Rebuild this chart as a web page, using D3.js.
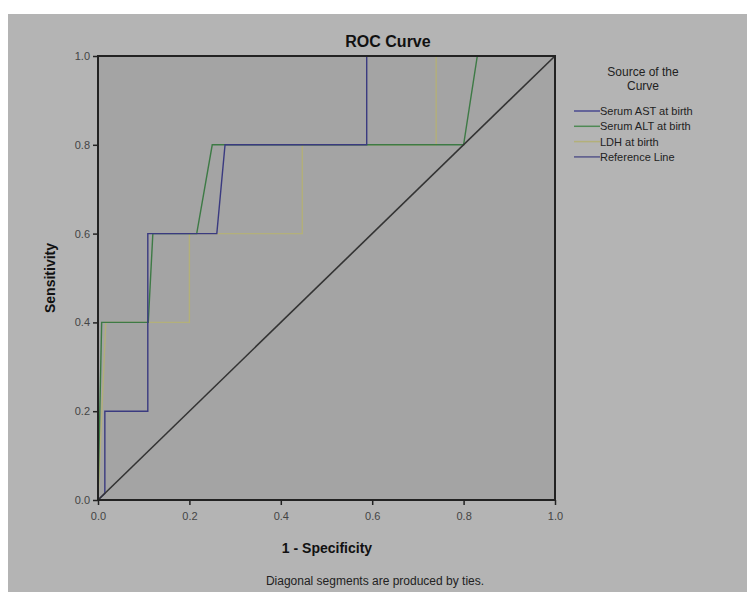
<!DOCTYPE html>
<html><head><meta charset="utf-8">
<script src="https://cdn.jsdelivr.net/npm/d3@7"></script>
<style>body{margin:0;background:#fff}</style>
</head><body><svg id="c" width="747" height="592"></svg>
<script>
const seriesNames = ["Serum AST at birth","Serum ALT at birth","LDH at birth","Reference Line"];
const astFPR = [0,0.015,0.015,0.109,0.109,0.26,0.278,0.588,0.588,1];
const astTPR = [0,0.015,0.2,0.2,0.6,0.6,0.8,0.8,1.0,1];
const altFPR = [0,0.008,0.11,0.12,0.216,0.25,0.80,0.83,1];
const altTPR = [0,0.4,0.4,0.6,0.6,0.8,0.8,1.0,1];
const ldhFPR = [0,0.017,0.2,0.2,0.447,0.447,0.74,0.74,1];
const ldhTPR = [0,0.4,0.4,0.6,0.6,0.8,0.8,1.0,1];
const refFPR = [0,1];
const refTPR = [0,1];
const ticks = [0,0.2,0.4,0.6,0.8,1.0];
const colors = ["#3a3a80","#3d7a45","#b3b07a","#333"];
const legendColors = ["#4a4a90","#4f8a55","#b3b07a","#55558a"];

const svg = d3.select("#c");
svg.append("rect").attr("x",8).attr("y",14).attr("width",739).attr("height",578).attr("fill","#b4b4b4");
const x = d3.scaleLinear().domain([0,1]).range([98,555]);
const y = d3.scaleLinear().domain([0,1]).range([500,56]);
svg.append("rect").attr("x",x(0)).attr("y",y(1)).attr("width",x(1)-x(0)).attr("height",y(0)-y(1)).attr("fill","#a4a4a4");

const fmt = d3.format(".1f");
const xa = svg.append("g").attr("transform","translate(0,500)").call(d3.axisBottom(x).tickValues(ticks).tickFormat(fmt).tickSize(5).tickSizeOuter(0));
const ya = svg.append("g").attr("transform","translate(98,0)").call(d3.axisLeft(y).tickValues(ticks).tickFormat(fmt).tickSize(5).tickSizeOuter(0));
[xa,ya].forEach(a=>{a.select(".domain").remove();a.selectAll("line").attr("stroke","#222").attr("stroke-width",1.5);
 a.selectAll("text").attr("font-family","Arial, Liberation Sans, sans-serif").attr("font-size",11).attr("fill","#444");});
xa.selectAll("text").attr("dy","1.1em");

const line = d3.line().x(d=>x(d[0])).y(d=>y(d[1]));
const data = [[ldhFPR,ldhTPR],[altFPR,altTPR],[astFPR,astTPR],[refFPR,refTPR]];
const cidx = [2,1,0,3];
data.forEach((s,i)=>{
  svg.append("path").datum(s[0].map((v,j)=>[v,s[1][j]])).attr("d",line).attr("fill","none")
   .attr("stroke",colors[cidx[i]]).attr("stroke-width",cidx[i]==3?1.6:1.4);
});
svg.append("rect").attr("x",x(0)).attr("y",y(1)).attr("width",x(1)-x(0)).attr("height",y(0)-y(1)).attr("fill","none").attr("stroke","#222").attr("stroke-width",2);

const ff = "Arial, Liberation Sans, sans-serif";
svg.append("text").attr("x",388).attr("y",47).attr("text-anchor","middle").attr("font-family",ff).attr("font-weight","bold").attr("font-size",16).attr("fill","#111").text("ROC Curve");
svg.append("text").attr("transform","translate(55,278) rotate(-90)").attr("text-anchor","middle").attr("font-family",ff).attr("font-weight","bold").attr("font-size",14).attr("fill","#111").text("Sensitivity");
svg.append("text").attr("x",327).attr("y",553).attr("text-anchor","middle").attr("font-family",ff).attr("font-weight","bold").attr("font-size",14).attr("fill","#111").text("1 - Specificity");
svg.append("text").attr("x",375).attr("y",585).attr("text-anchor","middle").attr("font-family",ff).attr("font-size",12).attr("fill","#222").text("Diagonal segments are produced by ties.");

svg.append("text").attr("x",643).attr("y",76).attr("text-anchor","middle").attr("font-family",ff).attr("font-size",12).attr("fill","#222").text("Source of the");
svg.append("text").attr("x",643).attr("y",90).attr("text-anchor","middle").attr("font-family",ff).attr("font-size",12).attr("fill","#222").text("Curve");
seriesNames.forEach((n,i)=>{
  const yy = 111 + i*15.3;
  svg.append("line").attr("x1",574).attr("x2",600).attr("y1",yy).attr("y2",yy).attr("stroke",legendColors[i]).attr("stroke-width",1.5);
  svg.append("text").attr("x",600).attr("y",yy+4).attr("font-family",ff).attr("font-size",11).attr("fill","#222").text(n);
});
</script></body></html>
